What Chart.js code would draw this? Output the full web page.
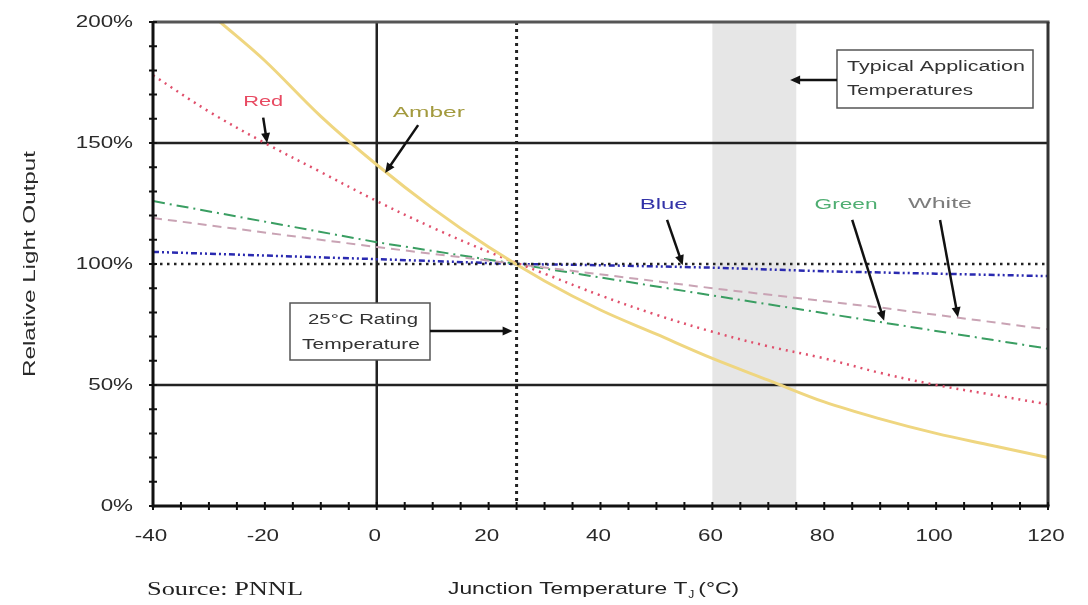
<!DOCTYPE html>
<html>
<head>
<meta charset="utf-8">
<script src="https://cdn.jsdelivr.net/npm/chart.js@4/dist/chart.umd.min.js"></script>
<style>
  body { margin: 0; background: #fff; }
  canvas { display: block; }
</style>
</head>
<body>
<canvas id="chart" width="1088" height="605"></canvas>
<script>
// values (relative light output in %)
const amberTemps = [-28, -20, -10, 0, 10, 20, 30, 40, 50, 60, 70, 80, 90, 100, 110, 120];
const amberVals  = [200, 184, 161, 141, 123, 107, 93, 81, 71, 61, 52, 43, 36, 30, 25, 20];

const redTemps = [-40, -30, -20, -10, 0, 10, 20, 30, 40, 50, 60, 70, 80, 90, 100, 110, 120];
const redVals  = [178, 163, 150, 138, 126, 115, 105, 96, 87, 79, 72, 66, 61, 55, 50, 46, 42];

const lineTemps = [-40, 0, 25, 60, 90, 120];
const greenVals = [126, 109, 100, 87, 76, 65];
const whiteVals = [119, 107, 100, 90, 82, 73];

const blueTemps = [-40, -20, 0, 25, 40, 60, 80, 100, 120];
const blueVals  = [105, 103.5, 102, 100, 99.5, 98.5, 97, 96, 95];

const xTickLabels = [-40, -20, 0, 20, 40, 60, 80, 100, 120];
const yTickLabels = [0, 50, 100, 150, 200];
const appBand = [60, 75];      // typical application temperatures
const ratingTemp = 25;

function pts(xs, ys) {
    return xs.map((x, i) => ({ x: x, y: ys[i] }));
}

// draw text squeezed/stretched horizontally by a factor
function drawText(ctx, text, x, y, font, color, sx, align) {
    ctx.save();
    ctx.font = font;
    ctx.fillStyle = color;
    ctx.textBaseline = 'middle';
    ctx.textAlign = 'left';
    const w = ctx.measureText(text).width * sx;
    let left = x;
    if (align === 'center') left = x - w / 2;
    if (align === 'right') left = x - w;
    ctx.translate(left, y);
    ctx.scale(sx, 1);
    ctx.fillText(text, 0, 0);
    ctx.restore();
    return w;
}

function fitText(ctx, text, x, y, font, color, width, align) {
    ctx.save();
    ctx.font = font;
    const sx = width / ctx.measureText(text).width;
    ctx.restore();
    drawText(ctx, text, x, y, font, color, sx, align);
}

function arrow(ctx, x1, y1, x2, y2) {
    const a = Math.atan2(y2 - y1, x2 - x1);
    const len = 10, half = 4.5;
    ctx.save();
    ctx.strokeStyle = '#111';
    ctx.fillStyle = '#111';
    ctx.lineWidth = 2.5;
    ctx.beginPath();
    ctx.moveTo(x1, y1);
    ctx.lineTo(x2 - Math.cos(a) * len * 0.8, y2 - Math.sin(a) * len * 0.8);
    ctx.stroke();
    ctx.beginPath();
    ctx.moveTo(x2, y2);
    ctx.lineTo(x2 - Math.cos(a) * len + Math.sin(a) * half, y2 - Math.sin(a) * len - Math.cos(a) * half);
    ctx.lineTo(x2 - Math.cos(a) * len - Math.sin(a) * half, y2 - Math.sin(a) * len + Math.cos(a) * half);
    ctx.closePath();
    ctx.fill();
    ctx.restore();
}

function hLine(ctx, x1, x2, y, color, width, dash) {
    ctx.save();
    ctx.strokeStyle = color;
    ctx.lineWidth = width;
    ctx.setLineDash(dash || []);
    ctx.beginPath();
    ctx.moveTo(x1, y);
    ctx.lineTo(x2, y);
    ctx.stroke();
    ctx.restore();
}

function vLine(ctx, x, y1, y2, color, width, dash) {
    ctx.save();
    ctx.strokeStyle = color;
    ctx.lineWidth = width;
    ctx.setLineDash(dash || []);
    ctx.beginPath();
    ctx.moveTo(x, y1);
    ctx.lineTo(x, y2);
    ctx.stroke();
    ctx.restore();
}

const decor = {
    id: 'decor',
    beforeDatasetsDraw(chart) {
        const ctx = chart.ctx, a = chart.chartArea;
        const xs = chart.scales.x, ys = chart.scales.y;
        // grey band
        const b1 = xs.getPixelForValue(appBand[0]), b2 = xs.getPixelForValue(appBand[1]);
        ctx.fillStyle = '#e6e6e6';
        ctx.fillRect(b1, a.top, b2 - b1, a.bottom - a.top);
        // horizontal lines
        hLine(ctx, a.left, a.right, ys.getPixelForValue(50), '#222', 2.5);
        hLine(ctx, a.left, a.right, ys.getPixelForValue(150), '#222', 2.5);
        // vertical at 0 and 25
        vLine(ctx, xs.getPixelForValue(0), a.top, a.bottom, '#222', 2.5);
        vLine(ctx, xs.getPixelForValue(ratingTemp), a.top, a.bottom, '#222', 3, [3, 4]);
    },
    afterDatasetsDraw(chart) {
        const ctx = chart.ctx, a = chart.chartArea;
        const xs = chart.scales.x, ys = chart.scales.y;
        const X = v => xs.getPixelForValue(v), Y = v => ys.getPixelForValue(v);

        // 100% reference dotted line
        hLine(ctx, a.left, a.right, Y(100), '#222', 2.5, [2.5, 4.5]);

        // frame: top and right
        hLine(ctx, a.left, a.right + 1.5, a.top, '#555', 3);
        vLine(ctx, a.right, a.top, a.bottom, '#333', 3);

        // axes with crossing ticks
        vLine(ctx, a.left, a.top, a.bottom + 1.5, '#111', 3);
        hLine(ctx, a.left, a.right + 1.5, a.bottom, '#111', 3);
        ctx.save();
        ctx.strokeStyle = '#111';
        ctx.lineWidth = 2;
        ctx.beginPath();
        for (let v = 0; v <= 200; v += 10) {
            ctx.moveTo(a.left - 4, Y(v));
            ctx.lineTo(a.left + 4, Y(v));
        }
        for (let t = -40; t <= 120; t += 5) {
            ctx.moveTo(X(t), a.bottom - 4);
            ctx.lineTo(X(t), a.bottom + 4);
        }
        ctx.stroke();
        ctx.restore();

        const tickFont = "16px 'Liberation Sans', Arial, sans-serif";
        yTickLabels.forEach(v => drawText(ctx, v + '%', a.left - 20, Y(v) + 1, tickFont, '#2a2a2a', 1.4, 'right'));
        xTickLabels.forEach(t => drawText(ctx, String(t), X(t) - 2, a.bottom + 31, tickFont, '#2a2a2a', 1.4, 'center'));

        // axis titles
        ctx.save();
        ctx.translate(31, Y(100));
        ctx.rotate(-Math.PI / 2);
        fitText(ctx, 'Relative Light Output', 0, 0, "16px 'Liberation Sans', Arial, sans-serif", '#2a2a2a', 226, 'center');
        ctx.restore();

        const tf = "17px 'Liberation Sans', Arial, sans-serif";
        const x0 = 448, sxT = 1.34;
        ctx.save();
        ctx.font = tf;
        const w1 = ctx.measureText('Junction Temperature T').width * sxT;
        ctx.restore();
        drawText(ctx, 'Junction Temperature T', x0, 589, tf, '#222', sxT, 'left');
        drawText(ctx, 'J', x0 + w1 + 1, 595, "10px 'Liberation Sans', Arial, sans-serif", '#222', 1.2, 'left');
        drawText(ctx, '(°C)', x0 + w1 + 11, 589, tf, '#222', sxT, 'left');

        fitText(ctx, 'Source: PNNL', 147, 590, "19px 'Liberation Serif', 'Times New Roman', serif", '#222', 156, 'left');

        // series labels + arrows
        const lf = "15px 'Liberation Sans', Arial, sans-serif";
        fitText(ctx, 'Red', X(-20.3), Y(167), lf, '#e84a62', 40, 'center');
        arrow(ctx, X(-20.3), Y(160.5), X(-19.6), Y(150));
        fitText(ctx, 'Amber', X(9.3), Y(162.4), lf, '#a39a3e', 72, 'center');
        arrow(ctx, X(7.4), Y(157.4), X(1.5), Y(137.6));
        fitText(ctx, 'Blue', X(51.3), Y(124.4), lf, '#3333a8', 48, 'center');
        arrow(ctx, X(51.9), Y(118.2), X(54.7), Y(99.5));
        fitText(ctx, 'Green', X(83.9), Y(124.4), lf, '#4fae72', 63, 'center');
        arrow(ctx, X(85), Y(118.2), X(90.7), Y(76.5));
        fitText(ctx, 'White', X(100.7), Y(124.8), lf, '#7c7c7c', 64, 'center');
        arrow(ctx, X(100.7), Y(118.2), X(103.9), Y(78));

        // boxes
        ctx.save();
        ctx.fillStyle = '#fff';
        ctx.strokeStyle = '#555';
        ctx.lineWidth = 1.5;
        ctx.fillRect(837, 50, 196, 58);
        ctx.strokeRect(837, 50, 196, 58);
        ctx.fillRect(290, 303, 140, 57);
        ctx.strokeRect(290, 303, 140, 57);
        ctx.restore();
        const bf = "14px 'Liberation Sans', Arial, sans-serif";
        fitText(ctx, 'Typical Application', 847, 67, bf, '#333', 178, 'left');
        fitText(ctx, 'Temperatures', 847, 91, bf, '#333', 126, 'left');
        arrow(ctx, 837, Y(176), X(73.9), Y(176));
        fitText(ctx, '25°C Rating', 363, 320, bf, '#333', 110, 'center');
        fitText(ctx, 'Temperature', 361, 345, bf, '#333', 118, 'center');
        arrow(ctx, 430, 331, X(ratingTemp) - 4, 331);
    }
};

new Chart(document.getElementById('chart').getContext('2d'), {
    type: 'scatter',
    data: {
        datasets: [
            {
                label: 'Amber',
                data: pts(amberTemps, amberVals),
                borderColor: '#efd680',
                borderWidth: 3,
                tension: 0.35,
            },
            {
                label: 'Red',
                data: pts(redTemps, redVals),
                borderColor: '#e0506c',
                borderWidth: 2.5,
                borderDash: [2, 5],
                tension: 0.35,
            },
            {
                label: 'White',
                data: pts(lineTemps, whiteVals),
                borderColor: '#c9a3b4',
                borderWidth: 2,
                borderDash: [9, 6],
            },
            {
                label: 'Green',
                data: pts(lineTemps, greenVals),
                borderColor: '#3a9e62',
                borderWidth: 2,
                borderDash: [12, 5, 2, 5],
            },
            {
                label: 'Blue',
                data: pts(blueTemps, blueVals),
                borderColor: '#2a2ab0',
                borderWidth: 2.5,
                borderDash: [6, 3, 2, 3, 2, 3],
            }
        ].map(d => Object.assign({ showLine: true, pointRadius: 0, fill: false }, d))
    },
    options: {
        responsive: false,
        animation: false,
        layout: { padding: { left: 153, right: 40, top: 22, bottom: 99 } },
        plugins: {
            legend: { display: false },
            tooltip: { enabled: false }
        },
        scales: {
            x: { type: 'linear', min: -40, max: 120, display: false },
            y: { min: 0, max: 200, display: false }
        }
    },
    plugins: [decor]
});
</script>
</body>
</html>
